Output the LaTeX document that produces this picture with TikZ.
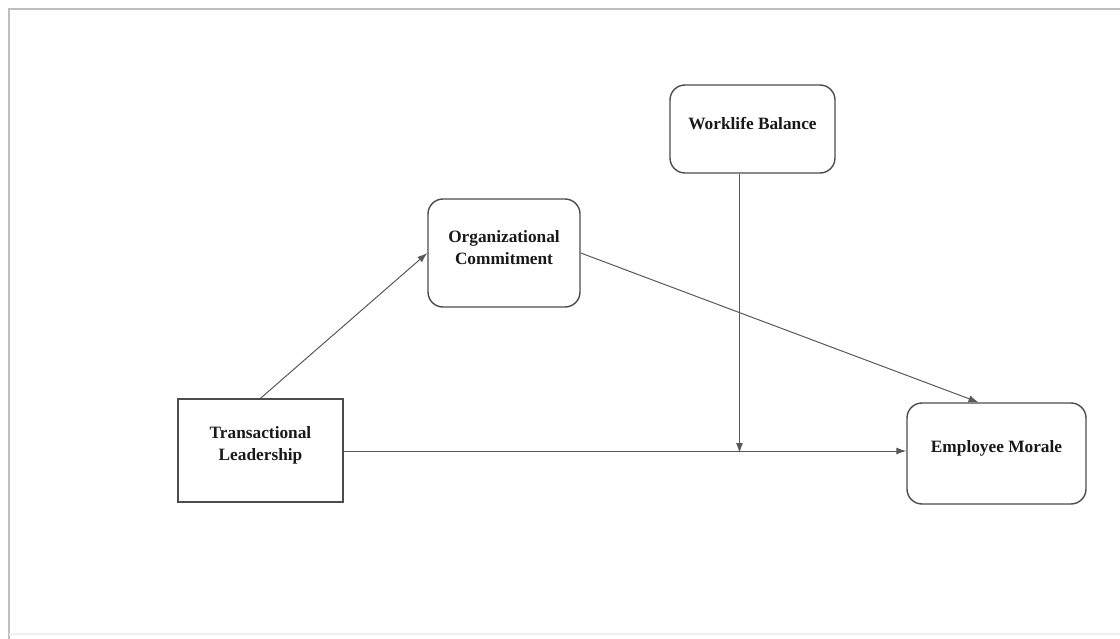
\documentclass[tikz,border=0pt]{standalone}
\usepackage{fontspec}
\setmainfont{Liberation Serif}
\usetikzlibrary{arrows.meta}
\tikzset{
  x=1pt, y=-1pt,
  boxbase/.style={draw=black!70, line width=1.4pt, fill=white, inner sep=0pt},
  roundbox/.style={boxbase, rounded corners=15pt},
  squarebox/.style={boxbase},
  lbl/.style={font=\fontsize{17.3}{22}\selectfont\bfseries, align=center, text=black!90},
  arr/.style={draw=black!65, line width=1pt, -{Latex[length=10pt,width=7pt]}},
}
\begin{document}
\begin{tikzpicture}
\useasboundingbox (0,0) rectangle (1120,639);
% outer frame
\draw[black!25, line width=2pt] (9,639) -- (9,9) -- (1120,9);
\draw[black!6, line width=1.5pt] (9,634) -- (1120,634);

% boxes
\node[roundbox, minimum width=165pt, minimum height=88pt, label={[lbl,yshift=5pt]center:Worklife Balance}] (wb) at (752.5,129) {};
\node[roundbox, minimum width=152pt, minimum height=108pt, label={[lbl,yshift=5pt]center:Organizational\\Commitment}] (oc) at (504,253) {};
\node[squarebox, minimum width=165pt, minimum height=103pt, label={[lbl,yshift=5pt]center:Transactional\\Leadership}] (tl) at (260.5,450.5) {};
\node[roundbox, minimum width=179pt, minimum height=101pt, label={[lbl,yshift=5pt]center:Employee Morale}] (em) at (996.5,453.5) {};

% connectors
\coordinate (wbs) at ([xshift=-13pt]wb.south);
\coordinate (mid) at (wbs |- 0,451);
\draw[arr] (tl.north) -- (oc.west);
\draw[arr] (oc.east) -- ([xshift=-18pt]em.north);
\draw[arr] (tl.east |- mid) -- (em.west |- mid);
\draw[arr] (wbs) -- ([yshift=-2pt]mid);
\end{tikzpicture}
\end{document}
